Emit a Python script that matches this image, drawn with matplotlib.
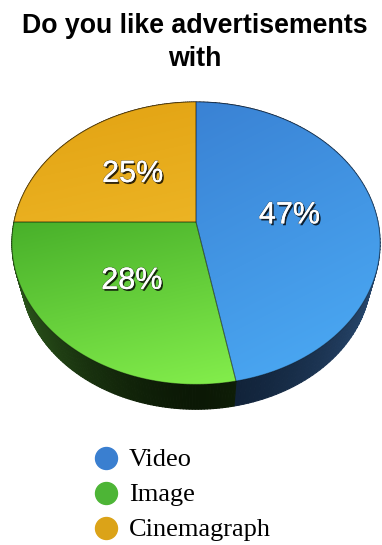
import numpy as np
import matplotlib.pyplot as plt
from matplotlib.patches import Polygon
from matplotlib.collections import PolyCollection
from matplotlib.colors import to_rgb
import matplotlib.patheffects as pe

labels = ['Video', 'Image', 'Cinemagraph']
shares = [47, 28, 25]
legend_colors = ['#3a7fd0', '#4db536', '#dba318']
# (upper, lower) shades of each slice's top face and of its rim
top_colors = [('#3a82d4', '#4cacf6'), ('#48b02a', '#84ee4c'), ('#e2a212', '#ecb424')]
side_colors = [('#2a4c74', '#0f1f34'), ('#2f5c1e', '#0b1805'), ('#6a4a08', '#3a2804')]

W, H = 382, 545
fig = plt.figure(figsize=(W / 100, H / 100), dpi=100)
ax = fig.add_axes([0, 0, 1, 1])

# pie centre, radii, perspective strength and thickness, all in pixels
cx, cy = 196, 222
rx, ry = 182, 138
persp = 0.15
depth = 33
shrink = 0.95   # the bottom disc looks a bit smaller, being further away


def project(t, r=1.0, bottom=False):
    X = r * np.sin(t)
    Z = -r * np.cos(t)
    w = 1 - persp * Z
    x, y = rx * X / w, ry * Z / w
    if bottom:
        return cx + x * shrink, cy + y * shrink + depth
    return cx + x, cy + y


def mix(c1, c2, f):
    a, b = np.array(to_rgb(c1)), np.array(to_rgb(c2))
    return a + (b - a) * np.clip(f, 0, 1)


fracs = np.array(shares) / sum(shares)
edges = np.concatenate([[0], np.cumsum(fracs)]) * 2 * np.pi

# rim first, back to front, so the top faces cover the hidden part
quads, qcols, qz = [], [], []
for i in range(len(shares)):
    t = np.linspace(edges[i], edges[i + 1], 120)
    xt, yt = project(t)
    xb, yb = project(t, bottom=True)
    for k in range(len(t) - 1):
        quads.append([(xt[k], yt[k]), (xt[k + 1], yt[k + 1]),
                      (xb[k + 1], yb[k + 1]), (xb[k], yb[k])])
        tm = 0.5 * (t[k] + t[k + 1])
        qcols.append(mix(side_colors[i][1], side_colors[i][0], abs(np.sin(tm)) ** 1.5))
        qz.append(-np.cos(tm))
order = np.argsort(qz)
ax.add_collection(PolyCollection([quads[j] for j in order],
                                 facecolors=[qcols[j] for j in order],
                                 edgecolors=[qcols[j] for j in order], linewidths=0.8))

# top faces with a soft gradient
yy, xx = np.mgrid[0:H, 0:W]
for i in range(len(shares)):
    t = np.linspace(edges[i], edges[i + 1], 200)
    xs, ys = project(t)
    pts = np.column_stack([np.r_[cx, xs], np.r_[cy, ys]])
    face = Polygon(pts, closed=True, facecolor='none', edgecolor=(0, 0, 0, 0.35), lw=0.7, zorder=3)
    ax.add_patch(face)
    y0, y1 = pts[:, 1].min(), pts[:, 1].max()
    x0, x1 = pts[:, 0].min(), pts[:, 0].max()
    f = 0.75 * (yy - y0) / (y1 - y0) + 0.25 * (xx - x0) / (x1 - x0)
    f = np.clip(f, 0, 1)[..., None]
    c0, c1 = np.array(to_rgb(top_colors[i][0])), np.array(to_rgb(top_colors[i][1]))
    img = c0 + (c1 - c0) * f
    im = ax.imshow(img, extent=(0, W, H, 0), interpolation='bilinear', zorder=2)
    im.set_clip_path(face)

    xm, ym = project(0.5 * (edges[i] + edges[i + 1]), r=0.52)
    ax.text(xm, ym, f'{shares[i]}%', ha='center', va='center', color='white',
            fontsize=22, family='Liberation Sans', zorder=5,
            path_effects=[pe.withSimplePatchShadow(offset=(1.2, -1.4), shadow_rgbFace='black', alpha=0.8),
                          pe.withStroke(linewidth=1.0, foreground=(0.2, 0.2, 0.2, 0.5)),
                          pe.Normal()])

ax.text(195, 33, 'Do you like advertisements', ha='center', va='baseline',
        fontsize=19.3, fontweight='bold', family='Liberation Sans')
ax.text(195, 66, 'with', ha='center', va='baseline',
        fontsize=19.3, fontweight='bold', family='Liberation Sans')

# legend
for k, (lab, col) in enumerate(zip(labels, legend_colors)):
    ax.scatter([106], [458 + 35 * k], s=250, color=col, zorder=4)
    ax.text(129, 466 + 35 * k, lab, ha='left', va='baseline', fontsize=19,
            family='Liberation Serif')

ax.set_xlim(0, W)
ax.set_ylim(H, 0)
ax.set_aspect('auto')
ax.axis('off')
fig.savefig('out.png', dpi=100)
